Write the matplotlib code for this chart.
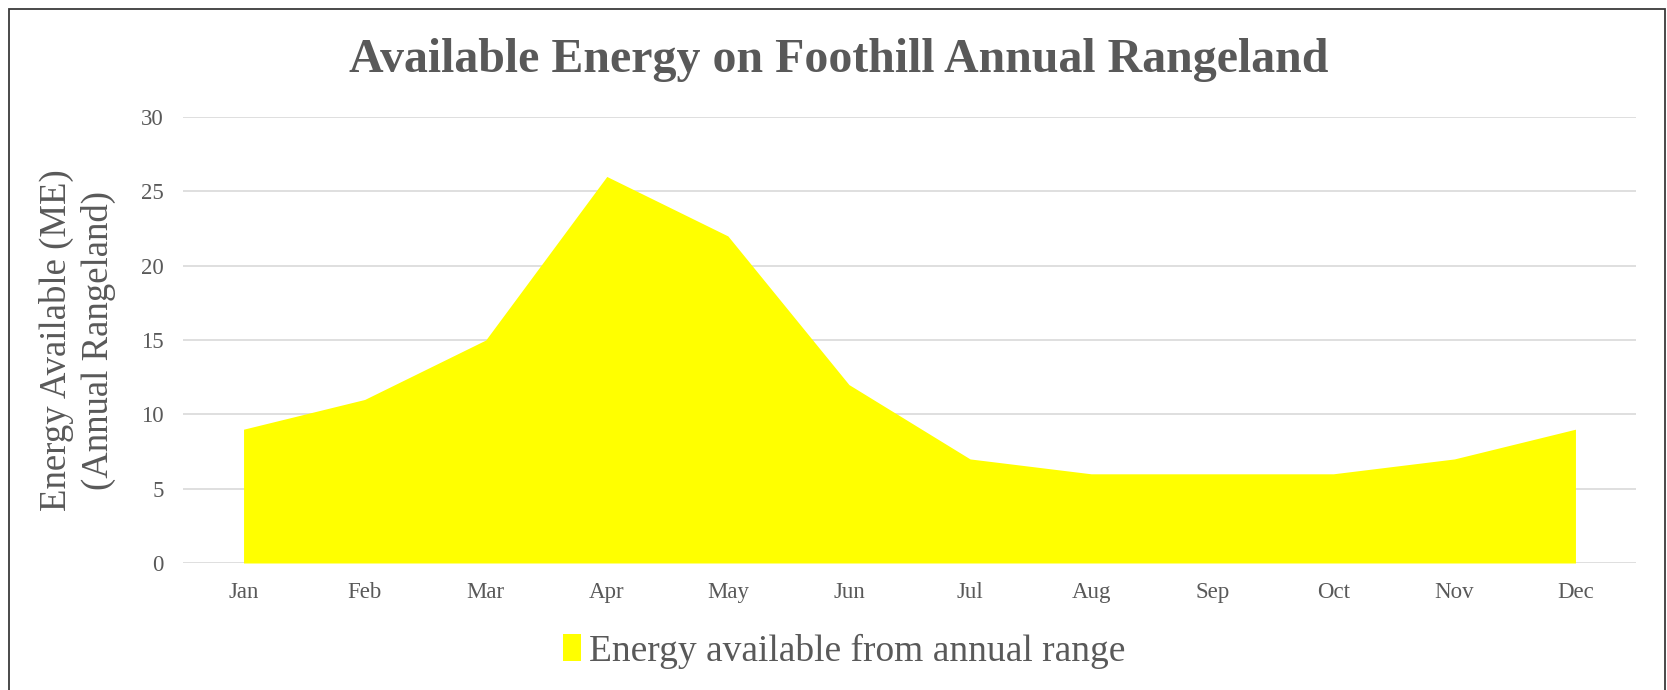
import matplotlib
matplotlib.use("Agg")
import matplotlib.pyplot as plt
from matplotlib.patches import Rectangle, Patch

months = ["Jan", "Feb", "Mar", "Apr", "May", "Jun",
          "Jul", "Aug", "Sep", "Oct", "Nov", "Dec"]
energy = [9, 11, 15, 26, 22, 12, 7, 6, 6, 6, 7, 9]
y_ticks = [0, 5, 10, 15, 20, 25, 30]

W, H = 1667, 690
TEXT = "#595959"
SERIF = ["Liberation Serif", "DejaVu Serif"]
plt.rcParams["font.family"] = SERIF

fig = plt.figure(figsize=(W / 100, H / 100), dpi=100)
fig.patch.set_facecolor("white")

# outer chart frame (bottom edge runs off the canvas)
fig.patches.append(Rectangle((8.5 / W, -0.05), (1665 - 8.5) / W, 1.05 - 8.5 / H,
                             transform=fig.transFigure, fill=False,
                             edgecolor="#3a3a3a", linewidth=1.3))

ax = fig.add_axes([183 / W, 1 - 563 / H, (1636 - 183) / W, (563 - 117) / H])
x = list(range(len(months)))
ax.fill_between(x, energy, 0, color="#ffff00", linewidth=0, zorder=2)

ax.set_xlim(-0.5, len(months) - 0.5)
ax.set_ylim(0, 30)
ax.set_yticks(y_ticks)
ax.set_xticks(x)
ax.set_xticklabels(months)
ax.yaxis.grid(True, color="#d9d9d9", linewidth=1.2, zorder=1)
ax.set_axisbelow(True)
for s in ax.spines.values():
    s.set_visible(False)
ax.tick_params(axis="both", length=0, labelsize=16.5, labelcolor=TEXT)
ax.tick_params(axis="x", pad=14)
ax.tick_params(axis="y", pad=14)

fig.text(839 / W, 1 - 60 / H, "Available Energy on Foothill Annual Rangeland",
         ha="center", va="center", fontsize=34.5, fontweight="bold", color=TEXT)

fig.text(77 / W, 1 - 340 / H, "Energy Available (ME)\n(Annual Rangeland)",
         ha="center", va="center", rotation=90, fontsize=26.5, color=TEXT,
         linespacing=1.25)

handle = Patch(facecolor="#ffff00", edgecolor="none")
fig.legend([handle], ["Energy available from annual range"],
           loc="center", bbox_to_anchor=(844 / W, 1 - 651 / H),
           frameon=False, fontsize=27, labelcolor=TEXT,
           handlelength=0.5, handleheight=0.7, handletextpad=0.2)

fig.savefig("out.png", dpi=100, facecolor="white")
